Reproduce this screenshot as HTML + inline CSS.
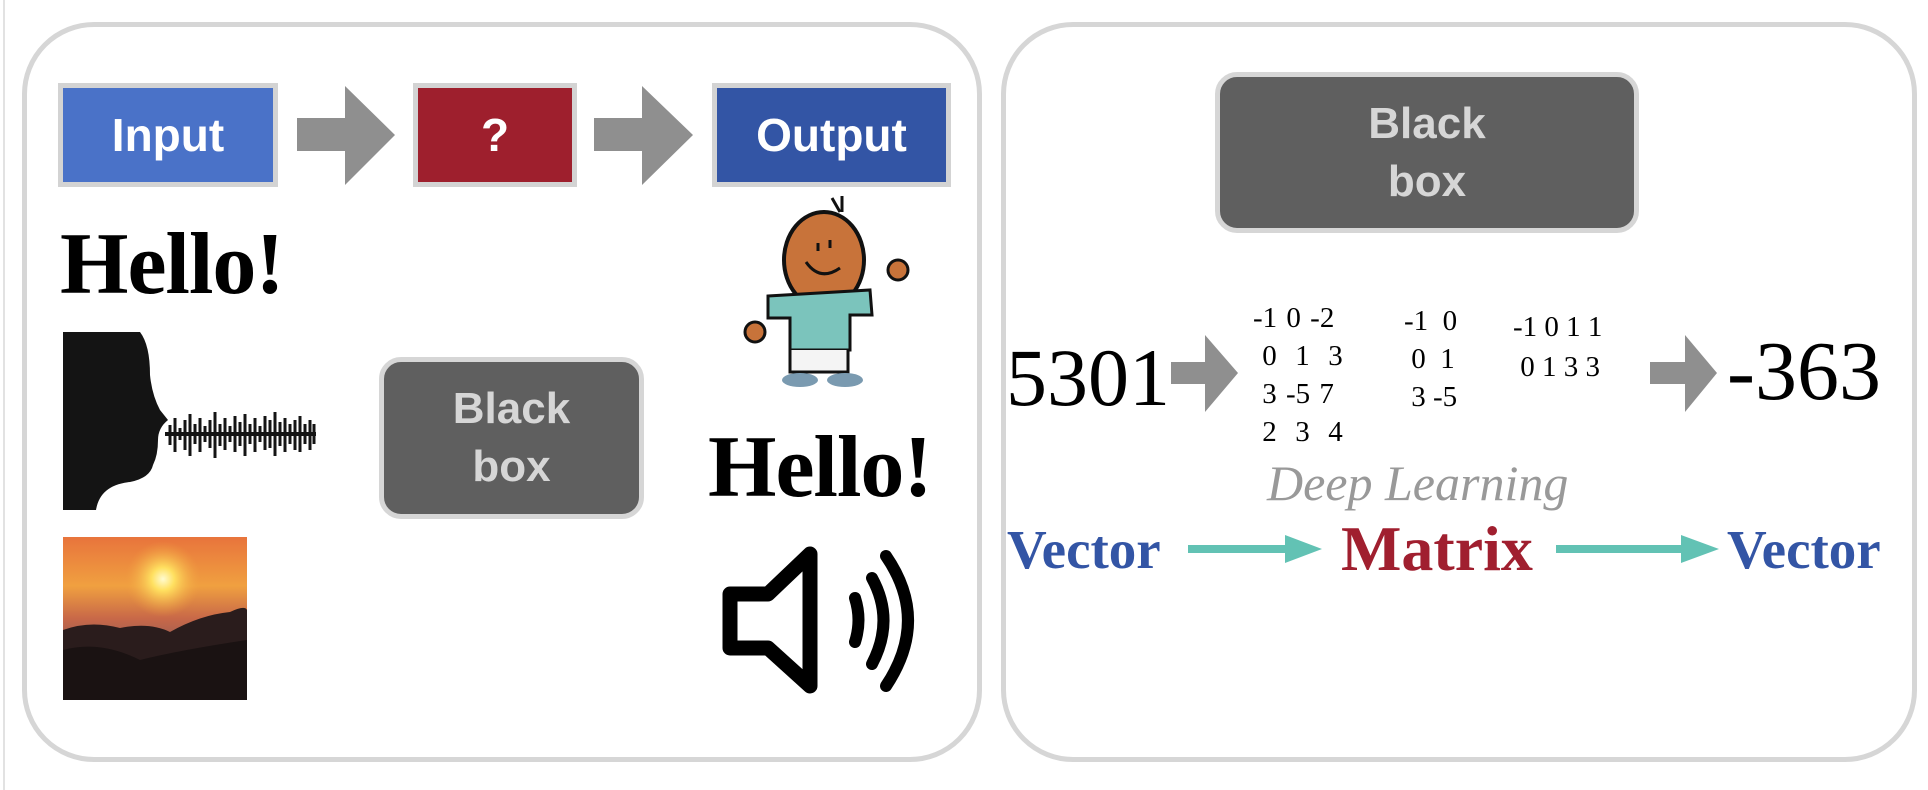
<!DOCTYPE html>
<html><head><meta charset="utf-8"><style>
*{margin:0;padding:0;box-sizing:border-box}
body{width:1928px;height:790px;background:#fff;position:relative;overflow:hidden;font-family:"Liberation Sans",sans-serif}
.a{position:absolute}
.panel{position:absolute;border:5px solid #d6d6d6;border-radius:72px}
.hb{position:absolute;border:5px solid #d3d3d3;color:#fff;font-weight:bold;font-size:46px;display:flex;align-items:center;justify-content:center}
.bb{position:absolute;background:#5f5f5f;border:5px solid #d6d6d6;border-radius:22px;color:#d6d6d6;font-weight:bold;font-size:44px;text-align:center;line-height:58px;display:flex;flex-direction:column;align-items:center;justify-content:center}
.ser{font-family:"Liberation Serif",serif;position:absolute;white-space:nowrap;line-height:1}
</style></head><body>
<div class="a" style="left:3px;top:0;width:2px;height:790px;background:#e2e2e2"></div>
<div class="panel" style="left:22px;top:22px;width:960px;height:740px"></div>
<div class="panel" style="left:1001px;top:22px;width:916px;height:740px"></div>

<div class="hb" style="left:58px;top:83px;width:220px;height:104px;background:#4a72c8">Input</div>
<div class="hb" style="left:413px;top:83px;width:164px;height:104px;background:#9e1f2d">?</div>
<div class="hb" style="left:712px;top:83px;width:239px;height:104px;background:#3355a5">Output</div>

<div class="ser" style="left:60px;top:221px;font-size:88px;font-weight:bold;letter-spacing:-1px">Hello!</div>
<div class="ser" style="left:708px;top:424px;font-size:88px;font-weight:bold;letter-spacing:-1px">Hello!</div>

<div class="bb" style="left:379px;top:357px;width:265px;height:162px"><div>Black</div><div>box</div></div>
<div class="bb" style="left:1215px;top:72px;width:424px;height:161px"><div>Black</div><div>box</div></div>

<svg class="a" style="left:0;top:0" width="1928" height="790">
<defs>
<linearGradient id="sky" x1="0" y1="0" x2="0" y2="1">
<stop offset="0" stop-color="#e8743c"/><stop offset="0.3" stop-color="#f0a040"/><stop offset="0.5" stop-color="#c86848"/><stop offset="0.7" stop-color="#8a5a58"/><stop offset="1" stop-color="#3a2a2a"/></linearGradient>
<radialGradient id="sun"><stop offset="0" stop-color="#fffbd0"/><stop offset="0.3" stop-color="#ffe060"/><stop offset="1" stop-color="#f0a040" stop-opacity="0"/></radialGradient>
</defs>
<polygon points="297,118 345,118 345,86 395,135 345,185 345,151 297,151" fill="#8f8f8f"/>
<polygon points="594,118 642,118 642,86 693,135 642,185 642,151 594,151" fill="#8f8f8f"/>
<polygon points="1171,362 1205,362 1205,335 1238,373 1205,412 1205,384 1171,384" fill="#8f8f8f"/>
<polygon points="1650,362 1685,362 1685,335 1717,373 1685,412 1685,384 1650,384" fill="#8f8f8f"/>
<rect x="1188" y="545" width="100" height="8" fill="#62c2b4"/><polygon points="1285,535 1322,549 1285,563" fill="#62c2b4"/>
<rect x="1556" y="545" width="128" height="8" fill="#62c2b4"/><polygon points="1681,535 1719,549 1681,563" fill="#62c2b4"/>
<path d="M63,332 L140,332 Q150,345 150,375 Q152,395 160,410 L168,420 Q158,428 158,440 Q158,455 153,465 Q150,478 130,482 Q100,485 96,510 L63,510 Z" fill="#141414"/>
<g stroke="#141414" stroke-width="3">
<path d="M165,434 L316,434" stroke-width="4"/>
<path d="M170,425V445 M175,418V452 M180,428V440 M185,420V450 M190,414V456 M195,424V444 M200,418V452 M205,426V442 M210,420V448 M215,412V458 M220,424V446 M225,418V450 M230,426V442 M235,416V452 M240,422V446 M245,414V456 M250,424V444 M255,418V452 M260,426V442 M265,416V450 M270,420V448 M275,412V456 M280,422V446 M285,418V452 M290,424V444 M295,420V450 M300,416V452 M305,424V444 M310,420V450 M314,424V444"/>
</g>
<rect x="63" y="537" width="184" height="163" fill="url(#sky)"/>
<circle cx="163" cy="579" r="38" fill="url(#sun)"/>
<path d="M63,630 Q90,620 120,628 Q150,622 170,632 Q200,615 230,612 Q245,605 247,610 L247,700 L63,700 Z" fill="#2a1c1c"/>
<path d="M63,650 Q100,640 140,660 Q180,650 247,640 L247,700 L63,700Z" fill="#1a1212"/>
<path d="M832,198 L840,212 M842,196 L842,212" stroke="#111" stroke-width="3"/>
<ellipse cx="824" cy="260" rx="40" ry="48" fill="#c8733a" stroke="#111" stroke-width="4"/>
<path d="M806,262 Q820,282 840,268" stroke="#111" stroke-width="3" fill="none"/>
<path d="M818,243v8 M830,240v8" stroke="#111" stroke-width="3"/>
<path d="M768,296 L870,290 L872,315 L850,315 L850,350 L790,350 L790,318 L768,318 Z" fill="#7bc4bc" stroke="#111" stroke-width="3"/>
<path d="M790,350 L790,372 L848,372 L848,350" fill="#f4f4f4" stroke="#111" stroke-width="3"/>
<ellipse cx="800" cy="380" rx="18" ry="7" fill="#7a9ab0"/><ellipse cx="845" cy="380" rx="18" ry="7" fill="#7a9ab0"/>
<circle cx="755" cy="332" r="10" fill="#c8733a" stroke="#111" stroke-width="3"/>
<circle cx="898" cy="270" r="10" fill="#c8733a" stroke="#111" stroke-width="3"/>
<path d="M730,594 L768,594 L810,554 L810,686 L768,648 L730,648 Z" fill="none" stroke="#000" stroke-width="15" stroke-linejoin="round"/>
<path d="M855,598 Q862,620 855,642" fill="none" stroke="#000" stroke-width="12" stroke-linecap="round"/>
<path d="M872,578 Q895,620 872,664" fill="none" stroke="#000" stroke-width="12" stroke-linecap="round"/>
<path d="M886,556 Q930,620 886,686" fill="none" stroke="#000" stroke-width="12" stroke-linecap="round"/>
</svg>

<div class="ser" style="left:1006px;top:337px;font-size:82px">5301</div>
<div class="ser" style="left:1727px;top:330px;font-size:84px">-363</div>

<div class="ser" style="left:1253px;top:299px;font-size:29px;line-height:38px;word-spacing:2px">-1 0 -2<br>&nbsp;0&nbsp; 1&nbsp; 3<br>&nbsp;3 -5 7<br>&nbsp;2&nbsp; 3&nbsp; 4</div>
<div class="ser" style="left:1404px;top:302px;font-size:29px;line-height:38px">-1&nbsp; 0<br>&nbsp;0&nbsp; 1<br>&nbsp;3 -5</div>
<div class="ser" style="left:1513px;top:307px;font-size:29px;line-height:40px">-1 0 1 1<br>&nbsp;0 1 3 3</div>

<div class="ser" style="left:1267px;top:458px;font-size:50px;font-style:italic;color:#999">Deep Learning</div>
<div class="ser" style="left:1007px;top:522px;font-size:55px;font-weight:bold;color:#3355a5">Vector</div>
<div class="ser" style="left:1341px;top:517px;font-size:64px;font-weight:bold;color:#a01f2f">Matrix</div>
<div class="ser" style="left:1727px;top:522px;font-size:55px;font-weight:bold;color:#3355a5">Vector</div>
</body></html>
